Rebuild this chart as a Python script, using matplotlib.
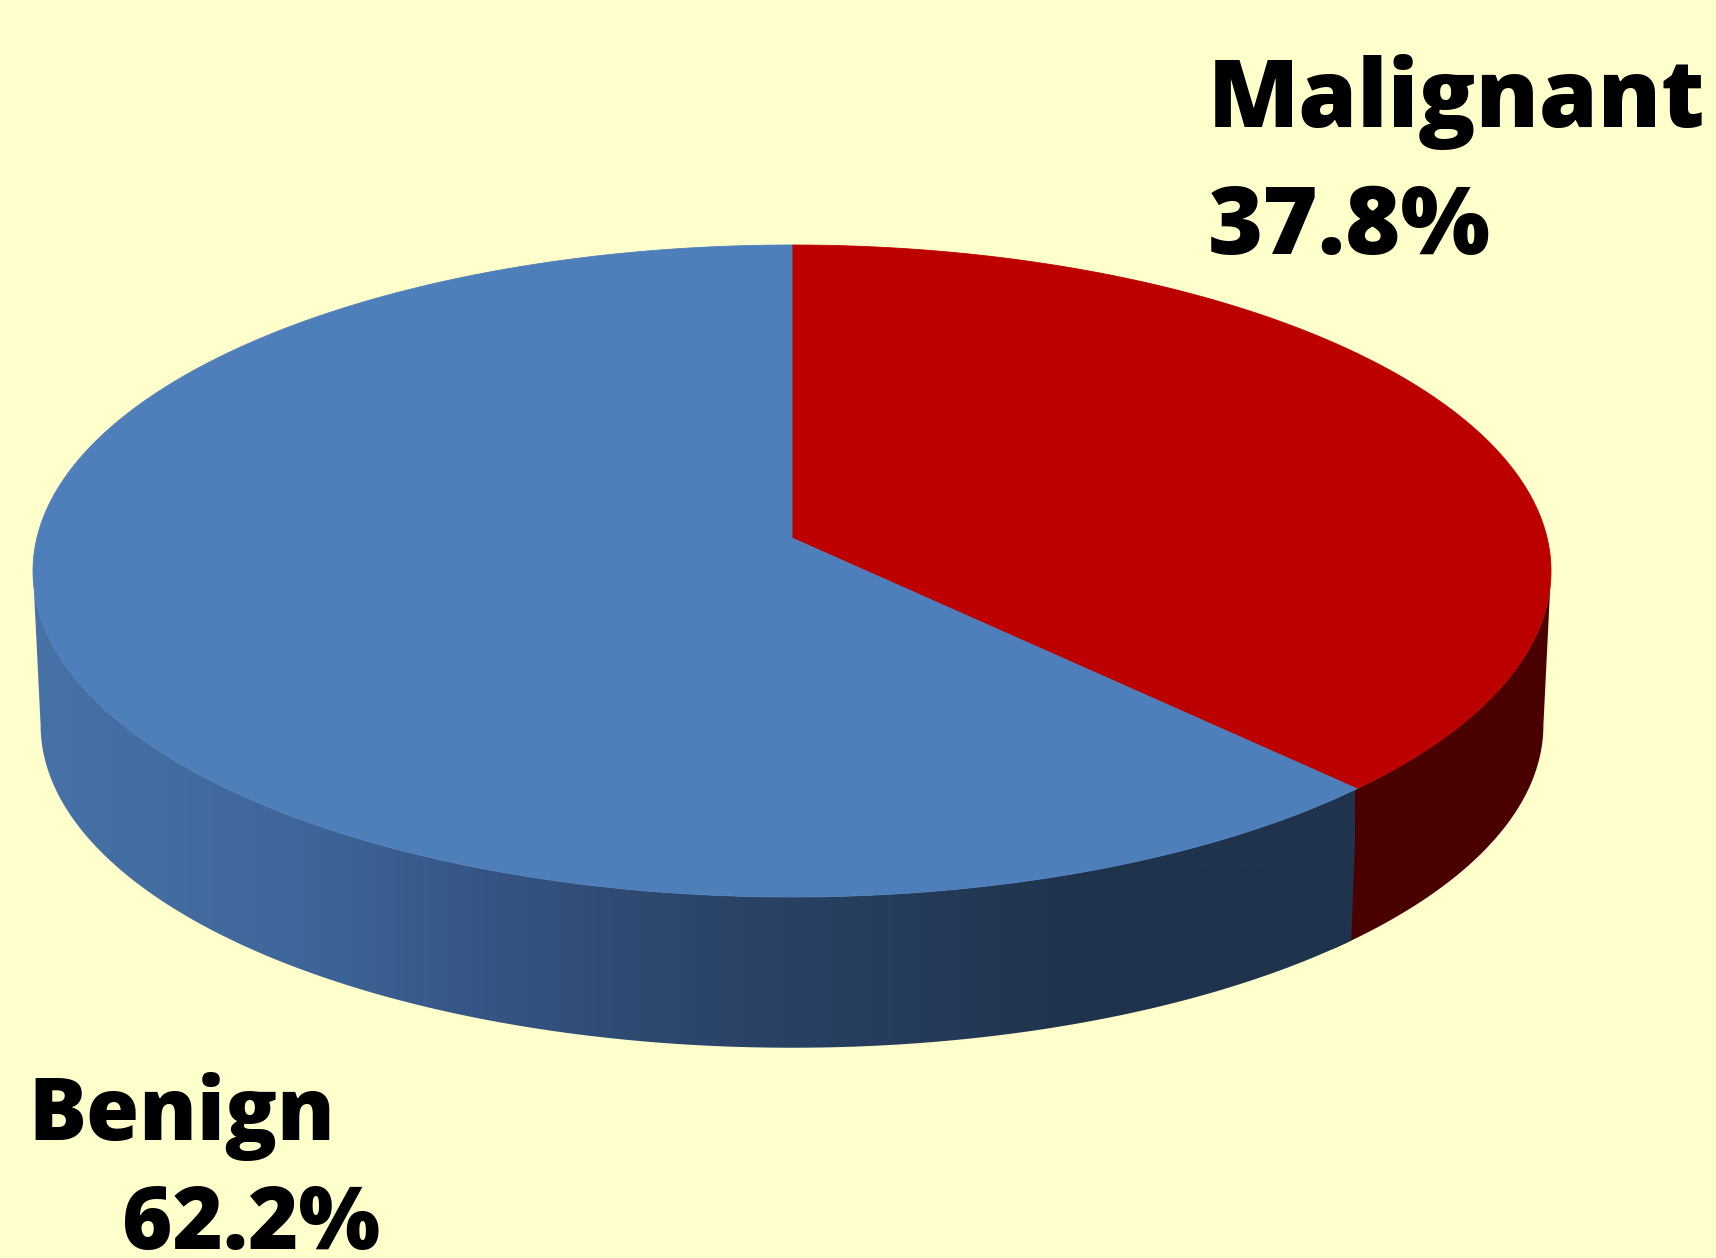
import matplotlib
matplotlib.use('Agg')
import matplotlib.pyplot as plt
import numpy as np
from matplotlib.colors import LinearSegmentedColormap
from matplotlib.patches import Polygon

# values
categories = ['Malignant', 'Benign']
shares = [37.8, 62.2]

BG = '#FFFFCC'
TOP_COLORS = ['#BC0000', '#4F7FBB']
RED_SIDE = '#4B0000'
BLUE_SIDE = ['#4772A8', '#3F669A', '#365685', '#2B4468', '#1F334D', '#1F334D']
BLUE_STOPS = [0.0, 0.2, 0.33, 0.52, 0.8, 1.0]

# perspective of the disc, in image pixels
CX = 792
APEX_Y = 538
TOP_Y = 245
BOTTOM_Y = 897
HALF_W = 759
SIDE_CY = 725
SIDE_SCALE = 0.99

c = (TOP_Y + BOTTOM_Y - 2 * APEX_Y) / (BOTTOM_Y - TOP_Y)
p = TOP_Y * (1 + c) - APEX_Y
k = HALF_W * np.sqrt(1 - c ** 2)
TOP_CY = (TOP_Y + BOTTOM_Y) / 2


def project(theta):
    """Map clockwise angles from 12 o'clock (degrees) to the top rim."""
    t = np.radians(theta)
    u, v = np.sin(t), np.cos(t)
    d = 1 + c * v
    return CX + k * u / d, (APEX_Y + p * v) / d


def project_low(theta):
    """Same angles on the rim of the base of the disc."""
    x, y = project(theta)
    return CX + SIDE_SCALE * (x - CX), SIDE_CY + SIDE_SCALE * (y - TOP_CY)


def side_outline(a, b):
    th = np.linspace(a, b, 200)
    x1, y1 = project(th)
    x2, y2 = project_low(th)
    return np.column_stack([np.r_[x1, x2[::-1]], np.r_[y1, y2[::-1]]])


fig = plt.figure(figsize=(17.16, 12.58), dpi=100, facecolor=BG)
ax = fig.add_axes([0, 0, 1, 1])
ax.set_facecolor(BG)
ax.axis('off')

edges = np.r_[0, np.cumsum(shares)] / sum(shares) * 360

# where the rim turns round, the wall starts and ends there
scan = np.linspace(0, 360, 3601)
scan_x = project(scan)[0]
right_turn = scan[np.argmax(scan_x)]
left_turn = scan[np.argmin(scan_x)]

# side wall: the red part is flat, the blue part darkens to the right
ax.add_patch(Polygon(side_outline(right_turn, edges[1] + 2), closed=True, fc=RED_SIDE, ec='none', zorder=1))
blue_cmap = LinearSegmentedColormap.from_list('side', list(zip(BLUE_STOPS, BLUE_SIDE)))
clip = Polygon(side_outline(edges[1], left_turn), closed=True, fc='none', ec='none', transform=ax.transData)
ax.add_patch(clip)
im = ax.imshow(np.linspace(0, 1, 512).reshape(1, -1), cmap=blue_cmap, aspect='auto',
               extent=(33, 1355, 1258, 0), zorder=2, interpolation='bilinear')
im.set_clip_path(clip)

# top face
for i, color in enumerate(TOP_COLORS):
    th = np.linspace(edges[i], edges[i + 1], 300)
    x, y = project(th)
    ax.fill(np.r_[CX, x], np.r_[APEX_Y, y], color=color, lw=0.6, zorder=3)

ax.set_xlim(0, 1716)
ax.set_ylim(1258, 0)

labels = [
    (1208, 127, categories[0], 68),
    (1208, 254, f'{shares[0]}%', 68),
    (28, 1140, categories[1], 62),
    (122, 1249, f'{shares[1]}%', 62),
]
for x, y, s, size in labels:
    ax.text(x, y, s, fontsize=size, fontweight=800, family='Open Sans', color='black',
            ha='left', va='baseline', zorder=5)

fig.savefig('out.png', dpi=100, facecolor=BG)
